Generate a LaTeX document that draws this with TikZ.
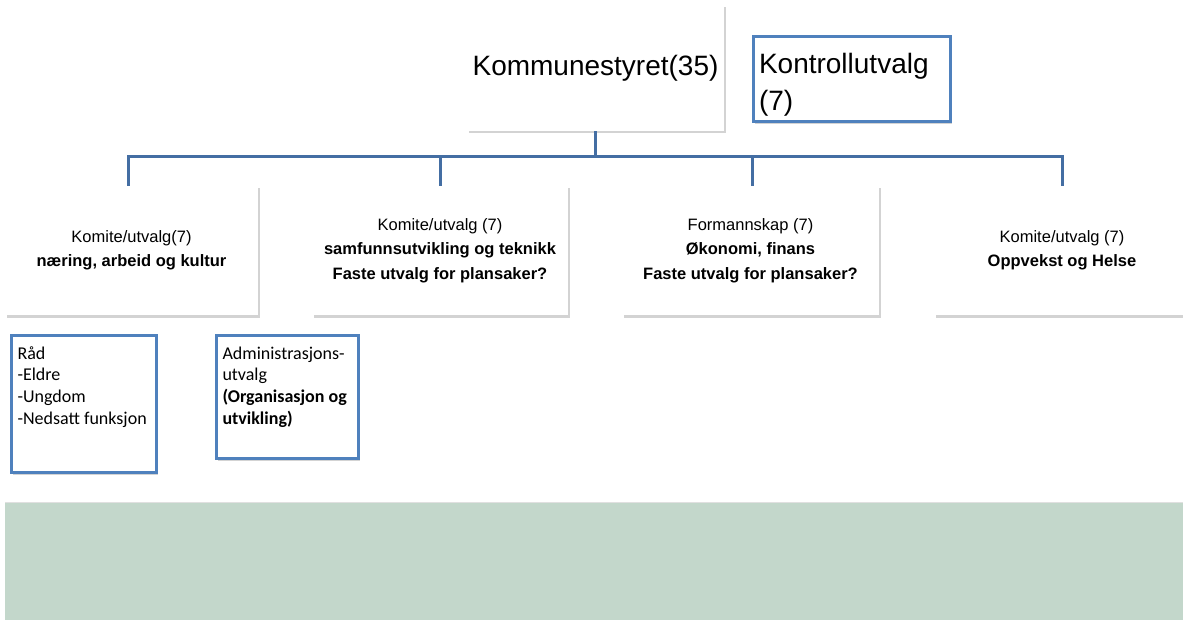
\documentclass[tikz,border=0pt]{standalone}
\usepackage{fontspec}
\setmainfont{Liberation Sans}
\newfontfamily\calibri{Carlito}
\usetikzlibrary{shadows}
\definecolor{orgblue}{RGB}{79,129,189}
\definecolor{linjeblue}{RGB}{68,110,163}
\definecolor{bandgreen}{RGB}{195,215,203}

\begin{document}
\begin{tikzpicture}[x=1pt,y=-1pt,
  skygge/.style={drop shadow={shadow xshift=1.5pt,shadow yshift=-2.5pt,fill=black!50,opacity=.35}},
  boks/.style={fill=white,inner sep=0pt,skygge},
  blaboks/.style={draw=orgblue,line width=3pt,fill=white,inner sep=6pt,anchor=north west,skygge},
  linje/.style={draw=linjeblue,line width=3pt},
  rad2/.style={boks,minimum height=129,align=center,font=\fontsize{16.5}{24.5}\selectfont}]
\useasboundingbox (0,0) rectangle (1183,620);
% bakgrunn nederst
\fill[bandgreen] (5,502) rectangle (1190,625);
\draw[black!12] (5,502) -- (1190,502);
% toppen
\node[boks,minimum width=257,minimum height=126] (styret) at (595.5,68) {\fontsize{28}{34}\selectfont Kommunestyret(35)};
\node[draw=orgblue,line width=3pt,fill=white,inner sep=6pt,skygge,minimum width=197,minimum height=85,text width=185,align=left,font=\fontsize{28}{37}\selectfont] (kontroll) at (851.5,79.5) {\rule{0pt}{30pt}Kontrollutvalg\\(7)};
% komiteer
\node[rad2,minimum width=253] (naering) at (131.5,250.5) {Komite/utvalg(7)\\\textbf{næring, arbeid og kultur}};
\node[rad2,minimum width=256] (samfunn) at (440,250.5) {Komite/utvalg (7)\\\textbf{samfunnsutvikling og teknikk}\\\textbf{Faste utvalg for plansaker?}};
\node[rad2,minimum width=257] (formann) at (750.5,250.5) {Formannskap (7)\\\textbf{Økonomi, finans}\\\textbf{Faste utvalg for plansaker?}};
\node[rad2,minimum width=256] (helse) at (1062,250.5) {Komite/utvalg (7)\\\textbf{Oppvekst og Helse}};
% raad og adm
\node[blaboks] (raad) at (10,334) {\parbox[t][125pt][t]{133pt}{\calibri\fontsize{18}{21.7}\selectfont\rule{0pt}{17.5pt}R\aa d\\-Eldre\\-Ungdom\\-Nedsatt funksjon}};
\node[blaboks] (adm) at (215,334) {\parbox[t][111pt][t]{130pt}{\calibri\fontsize{18}{21.7}\selectfont\rule{0pt}{17.5pt}Administrasjons-\\utvalg\\\textbf{(Organisasjon og}\\\textbf{utvikling)}}};
% linjer
\coordinate (buss) at (595.5,157);
\draw[linje] (styret.south) -- (buss);
\draw[linje] ([xshift=-3.5pt]naering.north) |- (buss) -| (helse.north);
\draw[linje] (samfunn.north) -- (samfunn.north |- buss);
\draw[linje] ([xshift=1.5pt]formann.north) -- ([xshift=1.5pt]formann.north |- buss);
\end{tikzpicture}
\end{document}
